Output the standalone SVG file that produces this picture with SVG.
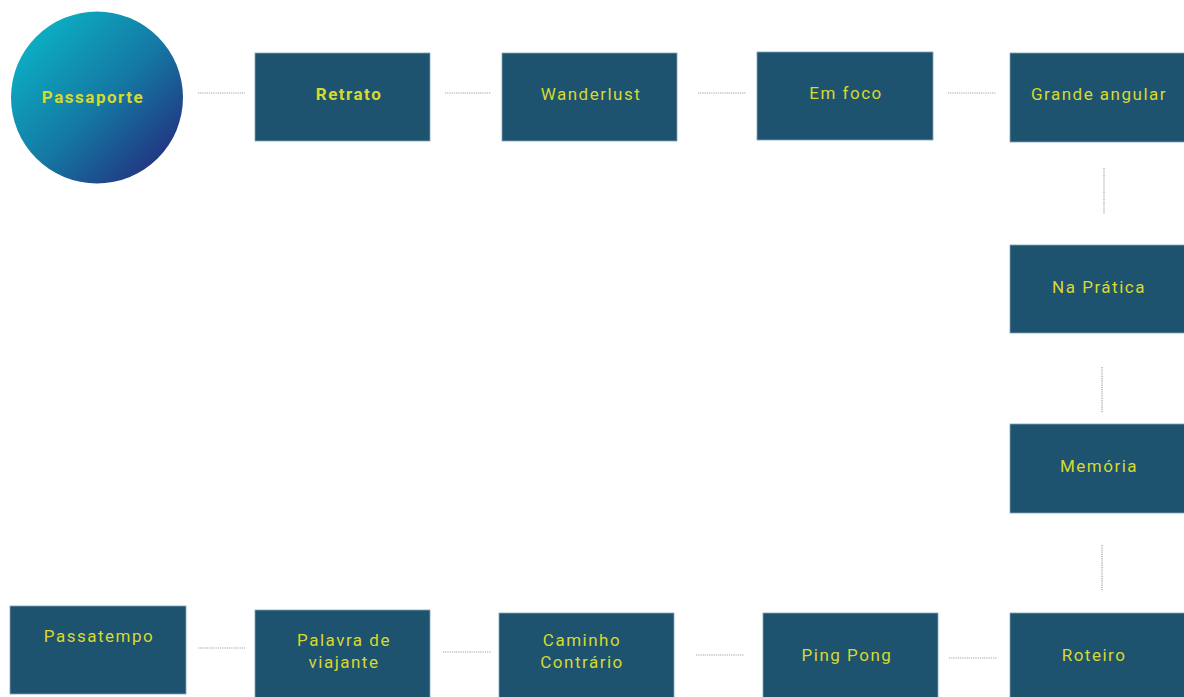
<svg xmlns="http://www.w3.org/2000/svg" width="1184" height="697" viewBox="0 0 1184 697">
<defs>
<linearGradient id="g" x1="0.1" y1="0.1" x2="0.9" y2="0.9">
<stop offset="0" stop-color="#0bb3c6"/>
<stop offset="0.55" stop-color="#1576a2"/>
<stop offset="1" stop-color="#23307f"/>
</linearGradient>
<style>
.box{fill:#1d536e;stroke:#7fa6b8;stroke-width:0.8}
.t{font-family:Roboto,"Liberation Sans",sans-serif;font-size:17px;fill:#d8d930;letter-spacing:1.5px;text-anchor:middle}
.b{font-weight:bold}
.c{stroke:#9aa4ab;stroke-width:1.2;stroke-dasharray:1.2 1;fill:none}
</style>
</defs>
<rect width="1184" height="697" fill="#ffffff"/>
<g id="connectors">
<line class="c" x1="198" y1="93" x2="245" y2="93"/>
<line class="c" x1="445" y1="93" x2="491" y2="93"/>
<line class="c" x1="698" y1="93" x2="746" y2="93"/>
<line class="c" x1="948" y1="93" x2="996" y2="93"/>
<line class="c" x1="1104" y1="168" x2="1104" y2="214"/>
<line class="c" x1="1102" y1="367" x2="1102" y2="413"/>
<line class="c" x1="1102" y1="545" x2="1102" y2="591"/>
<line class="c" x1="949" y1="658" x2="997" y2="658"/>
<line class="c" x1="696" y1="655" x2="744" y2="655"/>
<line class="c" x1="443" y1="652" x2="491" y2="652"/>
<line class="c" x1="198" y1="648" x2="245" y2="648"/>
</g>
<g id="passaporte">
<circle cx="97" cy="97.5" r="86" fill="url(#g)"/>
<text class="t b" x="93" y="103">Passaporte</text>
</g>
<g id="retrato">
<rect class="box" x="255" y="53" width="175" height="88"/>
<text class="t b" x="349" y="100">Retrato</text>
</g>
<g id="wanderlust">
<rect class="box" x="502" y="53" width="175" height="88"/>
<text class="t" x="591" y="100">Wanderlust</text>
</g>
<g id="emfoco">
<rect class="box" x="757" y="52" width="176" height="88"/>
<text class="t" x="846" y="99">Em foco</text>
</g>
<g id="grandeangular">
<rect class="box" x="1010" y="53" width="180" height="89"/>
<text class="t" x="1099" y="100">Grande angular</text>
</g>
<g id="napratica">
<rect class="box" x="1010" y="245" width="180" height="88"/>
<text class="t" x="1099" y="293">Na Prática</text>
</g>
<g id="memoria">
<rect class="box" x="1010" y="424" width="180" height="89"/>
<text class="t" x="1099" y="472">Memória</text>
</g>
<g id="roteiro">
<rect class="box" x="1010" y="613" width="180" height="90"/>
<text class="t" x="1094" y="661">Roteiro</text>
</g>
<g id="pingpong">
<rect class="box" x="763" y="613" width="175" height="90"/>
<text class="t" x="847" y="661">Ping Pong</text>
</g>
<g id="caminhocontrario">
<rect class="box" x="499" y="613" width="175" height="90"/>
<text class="t" x="582" y="646">Caminho</text>
<text class="t" x="582" y="668">Contrário</text>
</g>
<g id="palavradeviajante">
<rect class="box" x="255" y="610" width="175" height="93"/>
<text class="t" x="344" y="646">Palavra de</text>
<text class="t" x="344" y="668">viajante</text>
</g>
<g id="passatempo">
<rect class="box" x="10" y="606" width="176" height="88"/>
<text class="t" x="99" y="642">Passatempo</text>
</g>
</svg>
